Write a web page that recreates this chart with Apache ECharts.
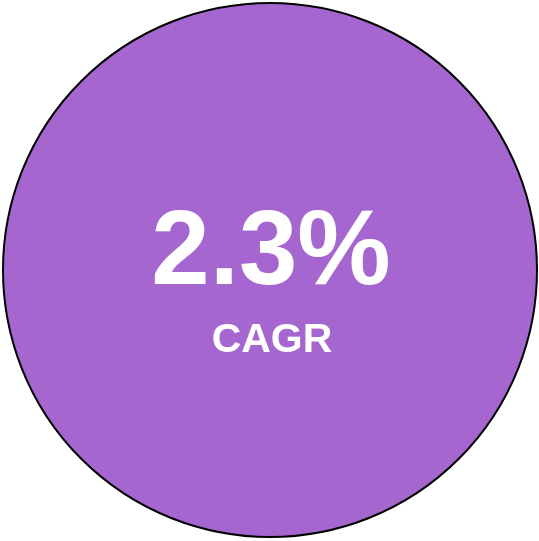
<!DOCTYPE html>
<html>
<head>
<meta charset="utf-8">
<script src="https://cdn.jsdelivr.net/npm/echarts@6/dist/echarts.min.js"></script>
<style>html,body{margin:0;padding:0;background:#fff;}#c{width:539px;height:541px;}</style>
</head>
<body>
<div id="c"></div>
<script>
var metricValue = [2.3];
var metricLabels = ['2.3%'];
var metricCaption = ['CAGR'];

var chart = echarts.init(document.getElementById('c'), null, {renderer: 'canvas'});
chart.setOption({
  animation: false,
  series: [{
    type: 'pie',
    center: [270, 270],
    radius: [0, 267],
    silent: true,
    z: 1,
    label: {show: false},
    labelLine: {show: false},
    itemStyle: {color: '#A566D0', borderColor: '#000', borderWidth: 2},
    data: metricValue.map(function (v) { return {value: v, name: metricCaption[0]}; })
  }],
  graphic: {
    z: 100,
    elements: [
      {type: 'text', x: 271, y: 255, z: 100, silent: true,
       style: {text: metricLabels[0], fill: '#fff', font: 'bold 105px "Liberation Sans", Arial, sans-serif', textAlign: 'center', textVerticalAlign: 'middle'}},
      {type: 'text', x: 272, y: 341, z: 100, silent: true,
       style: {text: metricCaption[0], fill: '#fff', font: 'bold 41px "Liberation Sans", Arial, sans-serif', textAlign: 'center', textVerticalAlign: 'middle'}}
    ]
  }
});
</script>
</body>
</html>
